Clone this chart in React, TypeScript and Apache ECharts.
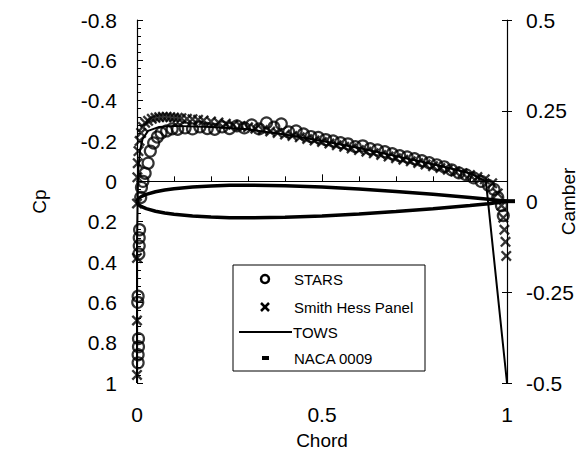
import React, { useEffect, useRef } from "react";
import * as echarts from "echarts";

// STARS (circles) – chord, Cp
const starsX = [0.003,0.003,0.004,0.004,0.002,0.003,0.005,0.006,0.006,0.007,0.01,0.012,0.016,0.022,0.03,0.036,0.045,0.055,0.065,0.08,0.095,0.11,0.13,0.15,0.17,0.19,0.21,0.23,0.25,0.27,0.29,0.31,0.33,0.35,0.37,0.39,0.41,0.43,0.45,0.47,0.49,0.51,0.53,0.55,0.57,0.59,0.61,0.63,0.65,0.67,0.69,0.71,0.73,0.75,0.77,0.79,0.81,0.83,0.85,0.87,0.89,0.91,0.93,0.95,0.965,0.975,0.985,0.99];
const starsCp = [0.9,0.86,0.82,0.78,0.6,0.57,0.36,0.32,0.28,0.24,0.08,0.03,0.0,-0.04,-0.09,-0.15,-0.19,-0.22,-0.24,-0.25,-0.26,-0.258,-0.265,-0.26,-0.27,-0.262,-0.258,-0.27,-0.262,-0.275,-0.265,-0.28,-0.26,-0.29,-0.268,-0.285,-0.245,-0.25,-0.235,-0.222,-0.218,-0.207,-0.2,-0.192,-0.186,-0.172,-0.176,-0.162,-0.156,-0.147,-0.137,-0.127,-0.121,-0.112,-0.102,-0.092,-0.082,-0.072,-0.057,-0.042,-0.032,-0.017,0.0,0.02,0.04,0.08,0.12,0.17];

// Smith Hess Panel (x markers)
const shX = [0,0,0,0,0.001,0.002,0.004,0.007,0.011,0.016,0.022,0.03,0.04,0.05,0.06,0.07,0.08,0.09,0.1,0.11,0.12,0.135,0.15,0.165,0.18,0.2,0.22,0.24,0.26,0.28,0.3,0.32,0.34,0.36,0.38,0.4,0.42,0.44,0.46,0.48,0.5,0.52,0.54,0.56,0.58,0.6,0.62,0.64,0.66,0.68,0.7,0.72,0.74,0.76,0.78,0.8,0.82,0.84,0.86,0.88,0.9,0.92,0.94,0.96,0.975,0.985,0.99,0.993,0.996,0.998];
const shCp = [0.96,0.69,0.38,0.11,-0.02,-0.09,-0.15,-0.2,-0.24,-0.27,-0.29,-0.3,-0.31,-0.315,-0.318,-0.32,-0.32,-0.318,-0.316,-0.315,-0.313,-0.31,-0.308,-0.305,-0.302,-0.297,-0.292,-0.286,-0.28,-0.274,-0.268,-0.261,-0.254,-0.247,-0.24,-0.232,-0.225,-0.218,-0.21,-0.202,-0.195,-0.187,-0.179,-0.171,-0.163,-0.155,-0.147,-0.139,-0.131,-0.123,-0.115,-0.107,-0.099,-0.091,-0.083,-0.075,-0.066,-0.058,-0.049,-0.04,-0.031,-0.021,-0.01,0.01,0.06,0.12,0.18,0.24,0.3,0.37];

// TOWS (line)
const towsX = [0,0,0.003,0.008,0.015,0.03,0.06,0.1,0.2,0.3,0.4,0.5,0.6,0.7,0.8,0.9,0.943,1];
const towsCp = [1,0.3,-0.05,-0.15,-0.21,-0.25,-0.27,-0.275,-0.27,-0.258,-0.232,-0.2,-0.165,-0.125,-0.085,-0.04,0.0,1];

// NACA 0009 half thickness (camber axis)
const nacaX = [0,0.0025,0.005,0.0125,0.025,0.05,0.075,0.1,0.15,0.2,0.25,0.3,0.4,0.5,0.6,0.7,0.8,0.9,0.95,1.0];
const nacaT = [0,0.0065,0.0092,0.0142,0.0196,0.0267,0.0315,0.0351,0.0401,0.043,0.0446,0.045,0.0435,0.0397,0.0342,0.0275,0.0197,0.0109,0.0061,0.0009];

const cpTicks = { min: -0.8, max: 1, interval: 0.2 };
const camberTicks = { min: -0.5, max: 0.5, interval: 0.25 };
const chordTicks = { min: 0, max: 1, interval: 0.5 };

const FONT = '"Liberation Sans", Arial, sans-serif';

export default function App() {
  const ref = useRef<HTMLDivElement>(null);
  useEffect(() => {
    const chart = echarts.init(ref.current!, null, { renderer: "svg" });

    const stars = starsX.map((x, i) => [x, starsCp[i]]);
    const sh = shX.map((x, i) => [x, shCp[i]]);
    const tows = towsX.map((x, i) => [x, towsCp[i]]);
    const upper: any[] = nacaX.map((x, i) => [x, nacaT[i]]);
    const lower: any[] = nacaX.map((x, i) => [x, -nacaT[i]]).reverse();
    const naca: any[] = [...upper, ...lower];
    // dash marker at the trailing edge
    naca[nacaX.length - 1] = { value: naca[nacaX.length - 1], symbol: "rect", symbolSize: [16, 4] };

    const xPath =
      "path://M0,1.5 L1.5,0 L5,3.5 L8.5,0 L10,1.5 L6.5,5 L10,8.5 L8.5,10 L5,6.5 L1.5,10 L0,8.5 L3.5,5 Z";

    const labelStyle = { color: "#000", fontSize: 21, fontFamily: FONT };
    const nameStyle = { color: "#000", fontSize: 19, fontFamily: FONT };

    const lx = 233, ly = 265;
    const lf = `15px ${FONT}`;
    chart.setOption({
      animation: false,
      grid: { left: 137, right: 81, top: 20, bottom: 71, outerBoundsMode: "none", containLabel: false },
      xAxis: {
        type: "value",
        ...chordTicks,
        name: "Chord",
        nameLocation: "middle",
        nameGap: 48,
        nameMoveOverlap: false,
        nameTextStyle: nameStyle,
        axisLine: { lineStyle: { color: "#000", width: 1.2 } },
        axisTick: { inside: true, length: 7, lineStyle: { color: "#000" } },
        minorTick: { show: true, splitNumber: 5, length: 5, lineStyle: { color: "#000" } },
        axisLabel: { ...labelStyle, margin: 21 },
        splitLine: { show: false },
      },
      yAxis: [
        {
          type: "value",
          inverse: true,
          ...cpTicks,
          position: "left",
          name: "Cp",
          nameLocation: "middle",
          nameRotate: 90,
          nameGap: 88,
          nameMoveOverlap: false,
          nameTextStyle: nameStyle,
          axisLine: { show: true, lineStyle: { color: "#000", width: 1.2 } },
          axisTick: { inside: true, length: 6, lineStyle: { color: "#000" } },
          minorTick: { show: true, splitNumber: 5, length: 4, lineStyle: { color: "#000" } },
          axisLabel: { ...labelStyle, margin: 20 },
          splitLine: { show: false },
        },
        {
          type: "value",
          ...camberTicks,
          position: "right",
          name: "Camber",
          nameLocation: "middle",
          nameRotate: 90,
          nameGap: 52,
          nameMoveOverlap: false,
          nameTextStyle: nameStyle,
          axisLine: { show: true, lineStyle: { color: "#000", width: 1.2 } },
          axisTick: { inside: false, length: 5, lineStyle: { color: "#000" } },
          axisLabel: { ...labelStyle, margin: 19 },
          splitLine: { show: false },
        },
        {
          type: "value",
          ...camberTicks,
          position: "right",
          axisLine: { show: false },
          axisTick: { show: true, inside: true, length: 5, lineStyle: { color: "#000" } },
          axisLabel: { show: false },
          splitLine: { show: false },
        },
      ],
      series: [
        {
          name: "NACA 0009",
          type: "line",
          yAxisIndex: 1,
          data: naca,
          symbol: "none",
          itemStyle: { color: "#000" },
          lineStyle: { color: "#000", width: 3.5 },
          z: 1,
        },
        {
          name: "TOWS",
          type: "line",
          yAxisIndex: 0,
          data: tows,
          symbol: "none",
          lineStyle: { color: "#000", width: 2 },
          z: 2,
        },
        {
          name: "Smith Hess Panel",
          type: "scatter",
          yAxisIndex: 0,
          data: sh,
          symbol: xPath,
          symbolSize: 11,
          itemStyle: { color: "#000" },
          z: 3,
        },
        {
          name: "STARS",
          type: "scatter",
          yAxisIndex: 0,
          data: stars,
          symbol: "circle",
          symbolSize: 11,
          itemStyle: { color: "rgba(0,0,0,0)", borderColor: "#000", borderWidth: 2.2 },
          z: 4,
        },
      ],
      graphic: [
        {
          type: "group",
          z: 100,
          children: [
            { type: "rect", shape: { x: lx, y: ly, width: 192, height: 106 }, style: { fill: "#fff", stroke: "#000", lineWidth: 1 } },
            { type: "circle", shape: { cx: lx + 32, cy: ly + 14, r: 4 }, style: { fill: "none", stroke: "#000", lineWidth: 2.5 } },
            { type: "text", x: lx + 61, y: ly + 14, style: { text: "STARS", font: lf, fill: "#000", verticalAlign: "middle" } },
            { type: "line", shape: { x1: lx + 28, y1: ly + 38, x2: lx + 36, y2: ly + 46 }, style: { stroke: "#000", lineWidth: 2.5 } },
            { type: "line", shape: { x1: lx + 36, y1: ly + 38, x2: lx + 28, y2: ly + 46 }, style: { stroke: "#000", lineWidth: 2.5 } },
            { type: "text", x: lx + 61, y: ly + 42, style: { text: "Smith Hess Panel", font: lf, fill: "#000", verticalAlign: "middle" } },
            { type: "line", shape: { x1: lx + 6, y1: ly + 67, x2: lx + 59, y2: ly + 67 }, style: { stroke: "#000", lineWidth: 2 } },
            { type: "text", x: lx + 60, y: ly + 67, style: { text: "TOWS", font: lf, fill: "#000", verticalAlign: "middle" } },
            { type: "rect", shape: { x: lx + 29, y: ly + 91, width: 7, height: 4 }, style: { fill: "#000" } },
            { type: "text", x: lx + 61, y: ly + 93, style: { text: "NACA 0009", font: lf, fill: "#000", verticalAlign: "middle" } },
          ],
        },
      ],
    });
    return () => chart.dispose();
  }, []);
  return (
    <div
      ref={ref}
      style={{ position: "fixed", left: 0, top: 0, width: 588, height: 454, background: "#fff" }}
    />
  );
}
